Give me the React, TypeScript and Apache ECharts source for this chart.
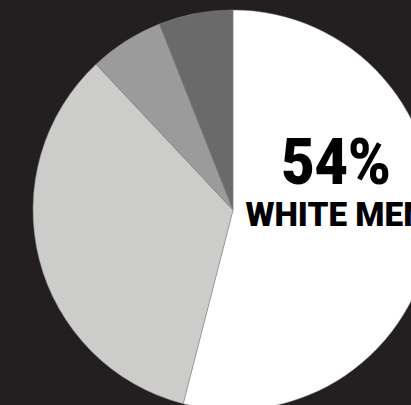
import React, { useEffect, useRef } from "react";
import * as echarts from "echarts";

const categories = ["White men", "Group B", "Group C", "Group D"];
const values = [54, 34, 6, 6];
const colors = ["#ffffff", "#cccccb", "#9b9b9b", "#6a6a6a"];

export default function App() {
  const ref = useRef<HTMLDivElement>(null);
  useEffect(() => {
    document.body.style.margin = "0";
    const chart = echarts.init(ref.current!, null, { renderer: "svg" });
    chart.setOption({
      animation: false,
      backgroundColor: "#231f20",
      series: [
        {
          type: "pie",
          center: [233, 210],
          radius: 200,
          startAngle: 90,
          clockwise: true,
          label: { show: false },
          labelLine: { show: false },
          emphasis: { disabled: true },
          itemStyle: { borderColor: "#8a8a8a", borderWidth: 0.5 },
          data: categories.map((name, i) => ({
            name,
            value: values[i],
            itemStyle: { color: colors[i] },
          })),
        },
      ],
      graphic: [
        {
          type: "text",
          z: 100,
          x: 336,
          y: 194,
          scaleX: 0.9,
          style: {
            text: `${values[0]}%`,
            font: "900 64px Roboto",
            fill: "#000000",
            align: "center",
            verticalAlign: "bottom",
          },
        },
        {
          type: "text",
          z: 100,
          x: 336,
          y: 231,
          scaleX: 0.98,
          style: {
            text: categories[0].toUpperCase(),
            font: "900 34px Roboto",
            fill: "#000000",
            align: "center",
            verticalAlign: "bottom",
          },
        },
      ],
    });
    return () => chart.dispose();
  }, []);
  return <div ref={ref} style={{ width: 411, height: 405 }} />;
}
